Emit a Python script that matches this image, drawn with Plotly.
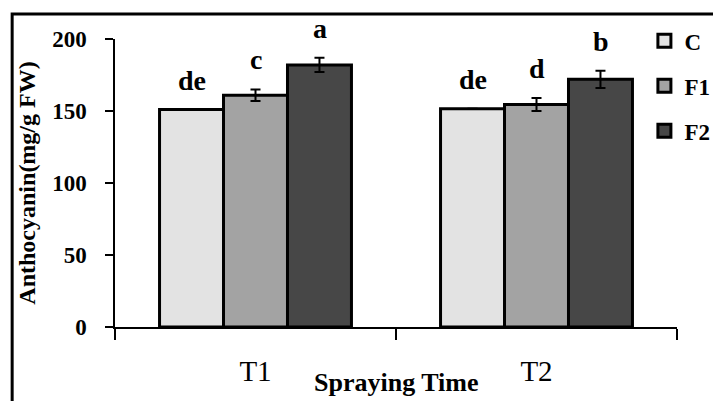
import plotly.graph_objects as go

categories = ["T1", "T2"]
series_names = ["C", "F1", "F2"]
values = {"C": [151, 151.5], "F1": [161, 154.5], "F2": [182, 172]}
errors = {"C": [0, 0], "F1": [4, 4.5], "F2": [5, 6]}
letters = {"C": ["de", "de"], "F1": ["c", "d"], "F2": ["a", "b"]}
colors = {"C": "#e3e3e3", "F1": "#a3a3a3", "F2": "#474747"}

FONT = "Liberation Serif, Times New Roman, serif"

fig = go.Figure()
for s in series_names:
    fig.add_trace(go.Bar(
        name=s, x=categories, y=values[s], showlegend=False,
        marker=dict(color=colors[s], line=dict(color="black", width=3)),
        error_y=dict(type="data", array=errors[s], visible=True,
                     color="black", thickness=2, width=5),
    ))
# legend entries (square swatches)
for s in series_names:
    fig.add_trace(go.Scatter(
        name=s, x=[None], y=[None], mode="markers", legendgroup=s,
        marker=dict(symbol="square", size=13, color=colors[s],
                    line=dict(color="black", width=3)),
    ))

bar_px = 64
offsets = {"C": -bar_px, "F1": 0, "F2": bar_px}
for s in series_names:
    for i, c in enumerate(categories):
        fig.add_annotation(
            x=c, y=values[s][i] + errors[s][i], xref="x", yref="y",
            text=letters[s][i], showarrow=False, xshift=offsets[s],
            yanchor="bottom", yshift=12,
            font=dict(family=FONT, size=28, color="black", weight="bold"),
        )

fig.add_annotation(x=0.5, y=-0.136, xref="paper", yref="paper", yanchor="top",
                   text="Spraying Time", showarrow=False,
                   font=dict(family=FONT, size=26, color="black", weight="bold"))

fig.add_shape(type="rect", xref="paper", yref="paper",
              x0=-0.183, x1=1.2, y0=-0.5, y1=1.087,
              line=dict(color="black", width=3), fillcolor="rgba(0,0,0,0)",
              layer="below")

fig.update_layout(
    width=713, height=401,
    margin=dict(l=115, r=36, t=39, b=74, autoexpand=False),
    paper_bgcolor="white", plot_bgcolor="white",
    barmode="group", bargap=0.317, bargroupgap=0,
    font=dict(family=FONT, color="black"),
    showlegend=True,
    legend=dict(x=0.942, y=1.068, xanchor="left", yanchor="top",
                font=dict(family=FONT, size=23, color="black", weight="bold"),
                bgcolor="rgba(0,0,0,0)", tracegroupgap=12, itemwidth=30),
    xaxis=dict(showline=True, linecolor="black", linewidth=1.5,
               ticks="outside", ticklen=11, tickcolor="black", tickwidth=1.5,
               tickson="boundaries", tickfont=dict(family=FONT, size=29),
               ticklabelstandoff=17,
               showgrid=False, zeroline=False),
    yaxis=dict(range=[0, 200], tickvals=[0, 50, 100, 150, 200],
               showline=True, linecolor="black", linewidth=1.5,
               ticks="outside", ticklen=8, tickcolor="black", tickwidth=1.5,
               tickfont=dict(family=FONT, size=23, weight="bold"),
               ticklabelstandoff=14,
               showgrid=False, zeroline=False,
               title=dict(text="Anthocyanin(mg/g FW)", standoff=10,
                          font=dict(family=FONT, size=24, weight="bold"))),
)

fig.write_html("out.html", config={"displayModeBar": False},
               post_script="document.body.style.margin='0';")
